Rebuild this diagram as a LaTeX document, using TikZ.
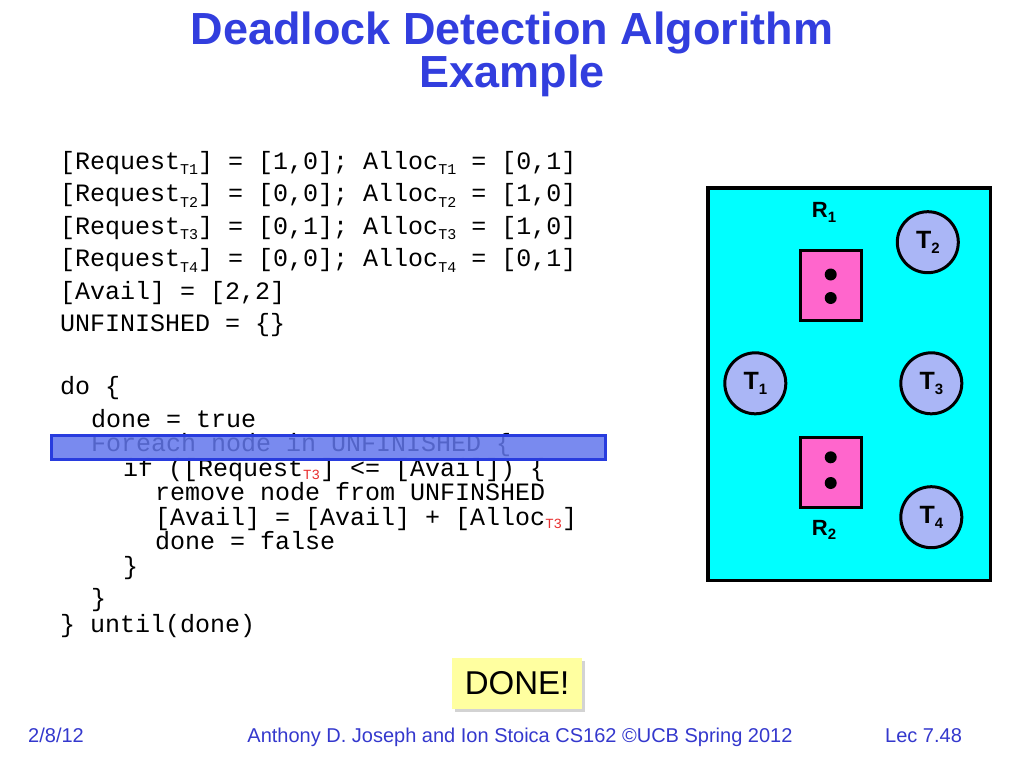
\documentclass[tikz,border=0pt]{standalone}
\usepackage{fontspec}
\setmainfont{Liberation Sans}
\setmonofont{Liberation Mono}
\usetikzlibrary{shadows}

\definecolor{titleblue}{RGB}{50,62,222}
\definecolor{footblue}{RGB}{52,56,205}
\definecolor{aqua}{RGB}{0,255,255}
\definecolor{thread}{RGB}{170,182,246}
\definecolor{respink}{RGB}{255,102,204}
\definecolor{hlfill}{RGB}{98,118,236}
\definecolor{hldraw}{RGB}{40,60,222}
\definecolor{subred}{RGB}{232,48,48}
\definecolor{doneyellow}{RGB}{255,255,160}

\newcommand{\codefont}{\ttfamily\fontsize{25}{25}\selectfont}
\newcommand{\lsub}[1]{\raisebox{-0.22em}{\fontsize{15}{15}\selectfont #1}}
\newcommand{\rsub}[1]{\raisebox{-0.12em}{\fontsize{14}{14}\selectfont\color{subred}#1}}

\begin{document}
\begin{tikzpicture}[x=1pt,y=-1pt,
    title/.style = {anchor=base, inner sep=0pt, text=titleblue, font=\bfseries\fontsize{45}{45}\selectfont},
    code/.style = {anchor=base west, inner sep=0pt, font=\codefont},
    main/.style = {draw, circle, fill=thread, line width=3pt, minimum size=61, inner sep=0pt, font=\bfseries\fontsize{25}{25}\selectfont},
    res/.style = {draw, fill=respink, line width=3pt, minimum width=61, minimum height=70, inner sep=0pt},
    dot/.style = {circle, fill=black, minimum size=12, inner sep=0pt},
    lbl/.style = {anchor=base, inner sep=0pt, font=\bfseries\fontsize{22}{22}\selectfont},
    foot/.style = {inner sep=0pt, text=footblue, font=\fontsize{20}{20}\selectfont}]
    \useasboundingbox (0,0) rectangle (1024,768);

    % title
    \node[title] (t1) at (512,45) {Deadlock Detection Algorithm};
    \node[title] (t2) at (512,87) {Example};

    % code
    \node[code] (l1) at (60,169) {[Request\lsub{T1}] = [1,0]; Alloc\lsub{T1} = [0,1]};
    \node[code] (l2) at (60,201.5) {[Request\lsub{T2}] = [0,0]; Alloc\lsub{T2} = [1,0]};
    \node[code] (l3) at (60,234) {[Request\lsub{T3}] = [0,1]; Alloc\lsub{T3} = [1,0]};
    \node[code] (l4) at (60,266.5) {[Request\lsub{T4}] = [0,0]; Alloc\lsub{T4} = [0,1]};
    \node[code] (l5) at (60,299) {[Avail] = [2,2]};
    \node[code] (l6) at (60,331.5) {UNFINISHED = \{\}};
    \node[code] (l7) at (60,394) {do \{};
    \node[code] (l8) at (91,427) {done = true};
    \node[code] (l9) at (91,451) {Foreach node in UNFINISHED \{};
    \node[code] (l10) at (123,476) {if ([Request\rsub{T3}] <= [Avail]) \{};
    \node[code] (l11) at (155,500.5) {remove node from UNFINSHED};
    \node[code] (l12) at (155,525) {[Avail] = [Avail] + [Alloc\rsub{T3}]};
    \node[code] (l13) at (155,549.5) {done = false};
    \node[code] (l14) at (123,574) {\}};
    \node[code] (l15) at (91,606) {\}};
    \node[code] (l16) at (60,632) {\} until(done)};

    % highlight
    \node[draw=hldraw, fill=hlfill, fill opacity=0.85, line width=3.5pt, minimum width=554, minimum height=24, inner sep=0pt] (hl) at (328.5,447.5) {};

    % graph
    \node[draw, fill=aqua, line width=3.5pt, minimum width=282.5, minimum height=392.5, inner sep=0pt] (box) at (849.3,384) {};
    \node[res] (r1) at (831.3,285) {};
    \node[res] (r2) at (831.3,472.2) {};
    \node[dot] (d1) at (830.7,274.5) {};
    \node[dot] (d2) at (830.7,298) {};
    \node[dot] (d3) at (830.7,457.3) {};
    \node[dot] (d4) at (830.7,483) {};
    \node[lbl] (n1) at (824,217.5) {R\lsub{1}};
    \node[lbl] (n2) at (824,535) {R\lsub{2}};
    \node[main] (1) at (755.3,383.3) {T\lsub{1}};
    \node[main] (2) at (927.8,242.2) {T\lsub{2}};
    \node[main] (3) at (931.3,383.3) {T\lsub{3}};
    \node[main] (4) at (931.3,517.2) {T\lsub{4}};

    % done
    \node[fill=doneyellow, minimum width=130, minimum height=51, inner sep=0pt, font=\fontsize{33}{33}\selectfont,
          drop shadow={shadow xshift=3pt, shadow yshift=-3pt, opacity=0.35}] (done) at (517,683.5) {DONE!};

    % footer
    \node[foot, anchor=base west] (f1) at (28,742) {2/8/12};
    \node[foot, anchor=base] (f2) at (520,742) {Anthony D. Joseph and Ion Stoica CS162 \textcopyright UCB Spring 2012};
    \node[foot, anchor=base west] (f3) at (885,742) {Lec 7.48};
\end{tikzpicture}
\end{document}
